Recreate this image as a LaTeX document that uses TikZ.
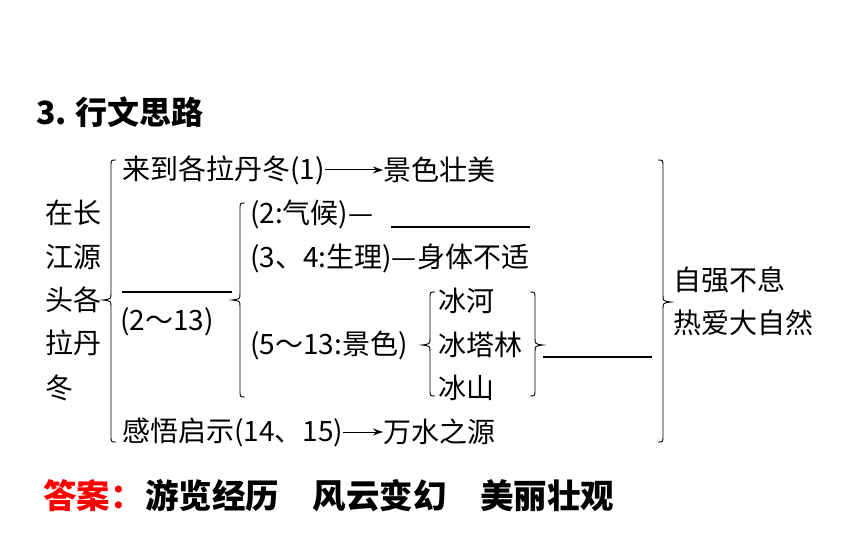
\documentclass[tikz,border=0pt]{standalone}
\usepackage{fontspec}
\setmainfont{Noto Sans CJK SC}
\usetikzlibrary{arrows.meta}
\definecolor{ansred}{RGB}{255,0,0}
\tikzset{
  txt/.style={anchor=west, inner sep=0pt, font=\fontsize{28}{30}\selectfont},
  ttl/.style={anchor=west, inner sep=0pt, font=\fontsize{32}{34}\selectfont\bfseries},
  ans/.style={anchor=west, inner sep=0pt, font=\fontsize{33.5}{36}\selectfont\bfseries},
  bracestroke/.style={line width=0.9pt},
  blank/.style={line width=1.3pt},
  arr/.style={line width=1pt, -{Stealth[length=10pt,width=7pt]}}
}
% left-opening brace: #1 shaft x, #2 top, #3 bottom, #4 tip y
\newcommand{\BrLeft}[4]{%
  \draw[bracestroke] ({#1+5},#2) .. controls (#1,#2) .. (#1,{#2+7})
    -- (#1,{#4-7}) .. controls (#1,{#4-1}) .. ({#1-8},#4)
    .. controls (#1,{#4+1}) .. (#1,{#4+7})
    -- (#1,{#3-7}) .. controls (#1,#3) .. ({#1+5},#3);}
% right-opening brace
\newcommand{\BrRight}[4]{%
  \draw[bracestroke] ({#1-5},#2) .. controls (#1,#2) .. (#1,{#2+7})
    -- (#1,{#4-7}) .. controls (#1,{#4-1}) .. ({#1+8},#4)
    .. controls (#1,{#4+1}) .. (#1,{#4+7})
    -- (#1,{#3-7}) .. controls (#1,#3) .. ({#1-5},#3);}
\begin{document}
\begin{tikzpicture}[x=1pt,y=-1pt]
\useasboundingbox (0,0) rectangle (860,537);
% title
\node[ttl] (title) at (36,112) {3.\hspace{9pt}行文思路};
% left column
\node[txt] (c1) at (45,213) {在长};
\node[txt] (c2) at (45,257) {江源};
\node[txt] (c3) at (45,300) {头各};
\node[txt] (c4) at (45,343) {拉丹};
\node[txt] (c5) at (45,388) {冬};
% braces
\BrLeft{111}{160}{442}{300}
\BrLeft{240}{203}{397}{300}
\BrLeft{430}{292}{396}{345}
\BrRight{535}{292}{396}{345}
\BrRight{663}{160}{442}{302}
% row 1
\node[txt] (t1) at (122,170) {来到各拉丹冬(1)};
\node[txt] (r1) at (383,170) {景色壮美};
\draw[arr] (t1.east) -- (r1.west);
% blank (2-13)
\coordinate (b1s) at (122,292);
\coordinate (b1e) at (232,292);
\draw[blank] (b1s) -- (b1e);
\node[txt] (p1) at (120,322) {(2～13)};
% sub rows
\node[txt] (t2) at (250,214) {(2:气候)—};
\coordinate (b2s) at (391,227);
\coordinate (b2e) at (530,227);
\draw[blank] (b2s) -- (b2e);
\node[txt] (t3) at (250,258) {(3、4:生理)—身体不适};
\node[txt] (t5) at (250,345) {(5～13:景色)};
\node[txt] (i1) at (438,301) {冰河};
\node[txt] (i2) at (438,345) {冰塔林};
\node[txt] (i3) at (438,388) {冰山};
\coordinate (b3s) at (543,357);
\coordinate (b3e) at (652,357);
\draw[blank] (b3s) -- (b3e);
% last row
\node[txt] (t7) at (122,432) {感悟启示(14、15)};
\node[txt] (r7) at (383,432) {万水之源};
\draw[arr] (t7.east) -- (r7.west);
% right
\node[txt] (s1) at (673,280) {自强不息};
\node[txt] (s2) at (673,323) {热爱大自然};
% answer
\node[ans, text=ansred] (a0) at (43,496) {答案：};
\node[ans] (a1) at (145,496) {游览经历　风云变幻　美丽壮观};
\end{tikzpicture}
\end{document}
